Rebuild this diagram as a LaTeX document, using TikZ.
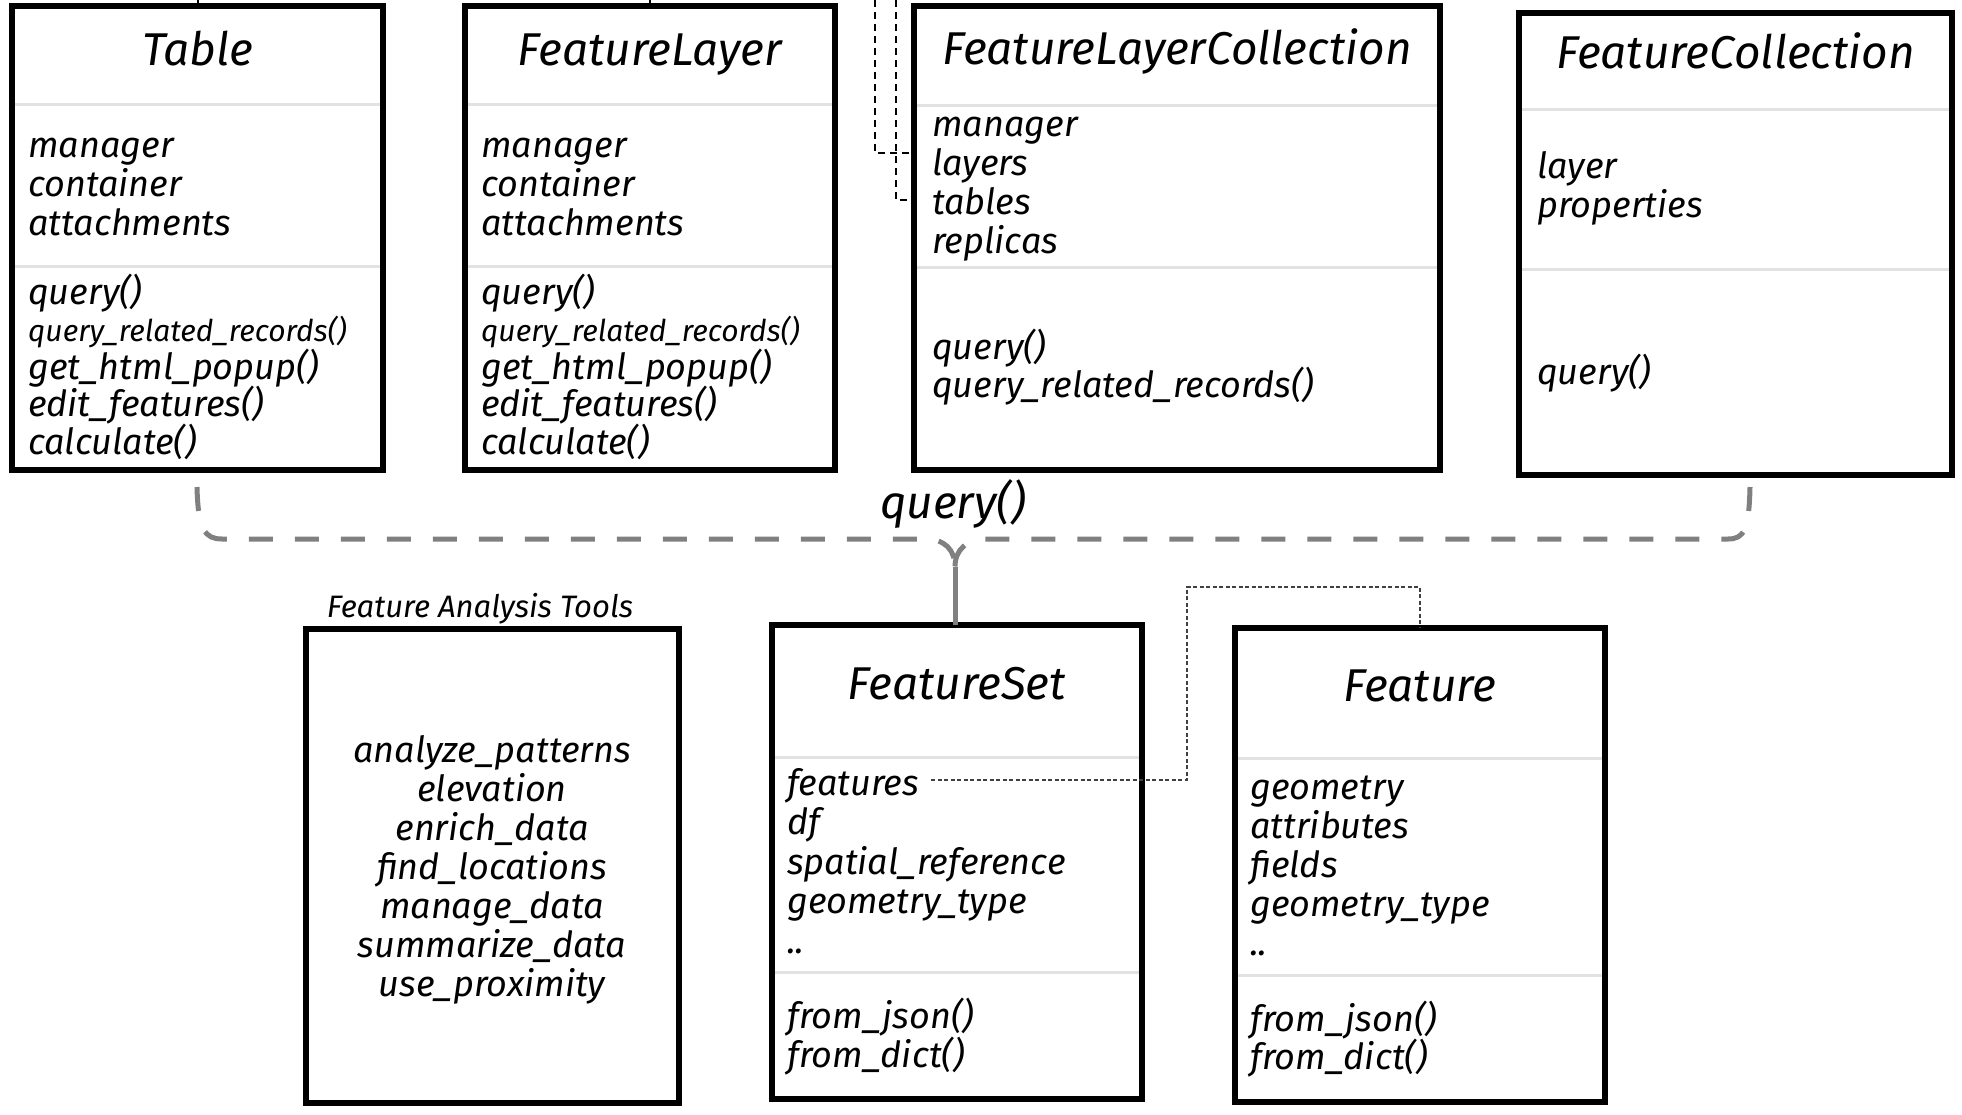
\documentclass[tikz,border=0pt]{standalone}
\usepackage{fontspec}
\setmainfont{Fira Sans}
\newcommand\bodyfs{\fontsize{36}{40}\selectfont\itshape}
\newcommand\smallfs{\fontsize{30}{30}\selectfont}
\newcommand\titlefs{\fontsize{46}{50}\selectfont\itshape}
\newcommand\labelfs{\fontsize{31}{33}\selectfont\itshape}
\definecolor{sepgray}{HTML}{E2E2E2}
\definecolor{bracegray}{HTML}{808080}
\tikzset{
  umlbox/.style={draw=black, line width=6pt, fill=white, inner sep=0pt, outer sep=0pt},
  sepline/.style={draw=sepgray, line width=3pt, shorten <=3pt, shorten >=3pt},
  txt/.style={anchor=base west, inner sep=0pt, font=\bodyfs},
  ctxt/.style={anchor=base, inner sep=0pt, font=\bodyfs},
  titletxt/.style={anchor=base, inner sep=0pt, font=\titlefs},
  stub/.style={draw=black, line width=2pt},
  dashconn/.style={draw=black, line width=1.8pt, dash pattern=on 7pt off 5pt},
  dotconn/.style={draw=black!75, line width=1.5pt, dash pattern=on 4pt off 2.5pt},
  bracestyle/.style={draw=bracegray, line width=5pt, dash pattern=on 24pt off 22pt},
  stemstyle/.style={draw=bracegray, line width=5pt}
}
\newcommand\umlbox[5]{\node[umlbox, anchor=north west, minimum width={#4-#2}, minimum height={#5-#3}] (#1) at (#2,#3) {};}
\newcommand\sepat[2]{\draw[sepline] (#1.west |- 0,#2) -- (#1.east |- 0,#2);}
\newcommand\textlines[5]{\foreach \t [count=\i] in {#5} {\node[txt] (#1-\i) at (#2,{#3+(\i-1)*#4}) {\t};}}
\newcommand\ctextlines[5]{\foreach \t [count=\i] in {#5} {\node[ctxt] (#1-\i) at (#2,{#3+(\i-1)*#4}) {\t};}}
\begin{document}
\begin{tikzpicture}[x=1pt,y=-1pt]
\useasboundingbox (0,0) rectangle (1962,1114);

% boxes
\umlbox{tbl}{12}{6}{383}{470}
\umlbox{fl}{465}{6}{835}{470}
\umlbox{flc}{914}{6}{1440}{470}
\umlbox{fc}{1519}{13}{1952}{475}
\umlbox{fa}{306}{629}{679}{1103}
\umlbox{fs}{772}{625}{1142}{1099}
\umlbox{ft}{1235}{628}{1605}{1102}

% separators
\sepat{tbl}{104}\sepat{tbl}{266}
\sepat{fl}{104}\sepat{fl}{266}
\sepat{flc}{105}\sepat{flc}{267}
\sepat{fc}{109}\sepat{fc}{269}
\sepat{fs}{757}\sepat{fs}{972}
\sepat{ft}{758}\sepat{ft}{975}

% titles
\node[titletxt] (tbl-title) at (tbl.north |- 0,65) {Table};
\node[titletxt] (fl-title) at (fl.north |- 0,65) {FeatureLayer};
\node[titletxt] (flc-title) at (flc.north |- 0,64) {FeatureLayerCollection};
\node[titletxt] (fc-title) at (fc.north |- 0,68) {FeatureCollection};
\node[titletxt] (fs-title) at (fs.north |- 0,699) {FeatureSet};
\node[titletxt] (ft-title) at (ft.north |- 0,701) {Feature};

% contents
\textlines{tbla}{28}{157}{39}{manager, container, attachments}
\textlines{tblm}{28}{304}{37.5}{query(), {\smallfs query\_related\_records()}, get\_html\_popup(), edit\_features(), calculate()}
\textlines{fla}{481}{157}{39}{manager, container, attachments}
\textlines{flm}{481}{304}{37.5}{query(), {\smallfs query\_related\_records()}, get\_html\_popup(), edit\_features(), calculate()}
\textlines{flca}{932}{136}{39}{manager, layers, tables, replicas}
\textlines{flcm}{932}{359}{38}{query(), query\_related\_records()}
\textlines{fca}{1537}{178}{39}{layer, properties}
\textlines{fcm}{1537}{384}{39}{query()}
\ctextlines{fat}{492}{762}{39}{analyze\_patterns, elevation, enrich\_data, find\_locations, manage\_data, summarize\_data, use\_proximity}
\textlines{fsa}{787}{795}{39.5}{features, df, spatial\_reference, geometry\_type, ..}
\textlines{fsm}{787}{1028}{39}{from\_json(), from\_dict()}
\textlines{fta}{1250}{799}{39}{geometry, attributes, fields, geometry\_type, ..}
\textlines{ftm}{1250}{1031}{38}{from\_json(), from\_dict()}

% labels
\node[anchor=base, inner sep=0pt, font=\labelfs] (fa-label) at (480,617) {Feature Analysis Tools};
\node[inner sep=0pt, font=\titlefs] (q-label) at (953,504) {query()};

% stubs to the top edge
\coordinate (top) at (0,0);
\draw[stub] (tbl.north) -- (tbl.north |- top);
\draw[stub] (fl.north) -- (fl.north |- top);

% dashed lines into FeatureLayerCollection
\coordinate (d1) at (875,0);
\coordinate (d2) at (896,0);
\draw[dashconn] (d1) |- (flc.west |- 0,153);
\draw[dashconn] (d2) |- (flc.west |- 0,200);

% brace joining the four classes to FeatureSet
\coordinate (bl) at (197,487);
\coordinate (br) at (1750,487);
\coordinate (tip) at (955,567);
\draw[bracestyle] (bl) .. controls (198,530) and (205,539) .. (222,539) -- (925,539) .. controls (945,539) and (955,550) .. (tip);
\draw[bracestyle] (br) .. controls (1749,530) and (1744,539) .. (1728,539) -- (988,539) .. controls (966,539) and (955,550) .. (tip);
\draw[stemstyle] (tip) -- (tip |- fs.north);

% features -> Feature
\path (fsa-1.east) ++(12,0) coordinate (fsx);
\coordinate (fk) at (1187,587);
\draw[dotconn] (fsx |- 0,780) -| (fk) -| (ft.north -| 1420,0);
\end{tikzpicture}
\end{document}
